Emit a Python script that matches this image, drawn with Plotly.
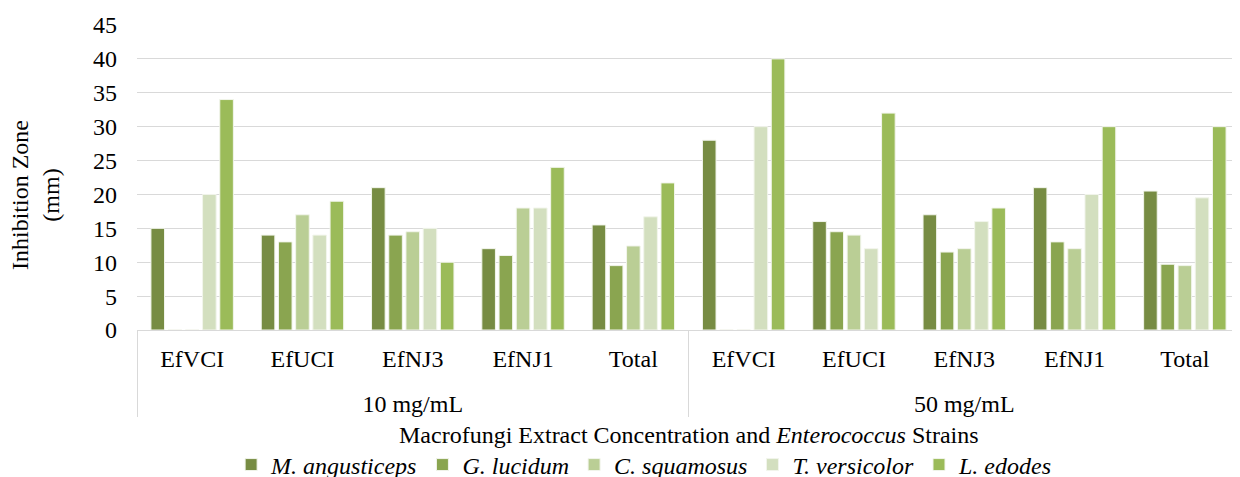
import plotly.graph_objects as go

concentrations = ["10 mg/mL"] * 5 + ["50 mg/mL"] * 5
strains = ["EfVCI", "EfUCI", "EfNJ3", "EfNJ1", "Total"] * 2

m_angusticeps = [15, 14, 21, 12, 15.5, 28, 16, 17, 21, 20.5]
g_lucidum = [0, 13, 14, 11, 9.5, 0, 14.5, 11.5, 13, 9.7]
c_squamosus = [0, 17, 14.5, 18, 12.4, 0, 14, 12, 12, 9.5]
t_versicolor = [20, 14, 15, 18, 16.7, 30, 12, 16, 20, 19.5]
l_edodes = [34, 19, 10, 24, 21.7, 40, 32, 18, 30, 30]

series = [
    ("M. angusticeps", m_angusticeps, "#778C43"),
    ("G. lucidum", g_lucidum, "#8AA550"),
    ("C. squamosus", c_squamosus, "#BACE95"),
    ("T. versicolor", t_versicolor, "#D3DFBF"),
    ("L. edodes", l_edodes, "#9BBB59"),
]

FONT = "Liberation Serif, Times New Roman, serif"
FS = 24

# tick font is kept small so the <br> gap before the group label is shorter,
# the visible text is enlarged with a span
big = "<span style='font-size:24px'>{}</span>"
group_labels = ["<br>" + big.format(c) for c in concentrations]
strain_labels = [big.format(s) for s in strains]

fig = go.Figure()
for name, vals, col in series:
    fig.add_trace(go.Bar(
        x=[group_labels, strain_labels], y=vals,
        name="<i>" + name + "</i>",
        marker=dict(color=col, line=dict(color="#F2F5EC", width=1)),
    ))

# page body has an 8px margin, so margins are offset by it
fig.update_layout(
    width=1240, height=477,
    margin=dict(l=129, r=8, t=17, b=155),
    paper_bgcolor="white", plot_bgcolor="white",
    font=dict(family=FONT, size=FS, color="#000000"),
    barmode="group", bargap=0.22, bargroupgap=0.21,
    showlegend=True,
    legend=dict(orientation="h", xref="container", yref="container",
                x=0.513, xanchor="center", y=0.042, yanchor="middle",
                font=dict(family=FONT, size=FS, color="#000000"),
                itemwidth=30, tracegroupgap=0),
    xaxis=dict(
        type="multicategory", automargin=False,
        showline=True, linecolor="#D9D9D9", linewidth=1,
        showdividers=True, dividercolor="#D9D9D9", dividerwidth=1,
        ticks="", ticklabelstandoff=11,
        tickfont=dict(family=FONT, size=21, color="#000000"),
    ),
    yaxis=dict(
        range=[0, 45], dtick=5, automargin=False,
        showgrid=True, gridcolor="#D9D9D9", gridwidth=1,
        zeroline=False, showline=False, ticks="", ticklabelstandoff=19,
        tickfont=dict(family=FONT, size=FS, color="#000000"),
    ),
    annotations=[
        dict(text="Macrofungi Extract Concentration and <i>Enterococcus</i> Strains",
             xref="paper", yref="paper", x=0.5, y=-0.344, xanchor="center", yanchor="middle",
             showarrow=False, font=dict(family=FONT, size=FS, color="#000000")),
        dict(text="Inhibition Zone<br>(mm)", textangle=-90,
             xref="paper", yref="paper", x=-0.0925, y=0.4426, xanchor="center", yanchor="middle",
             showarrow=False, font=dict(family=FONT, size=FS, color="#000000")),
    ],
)

fig.write_html("out.html")
